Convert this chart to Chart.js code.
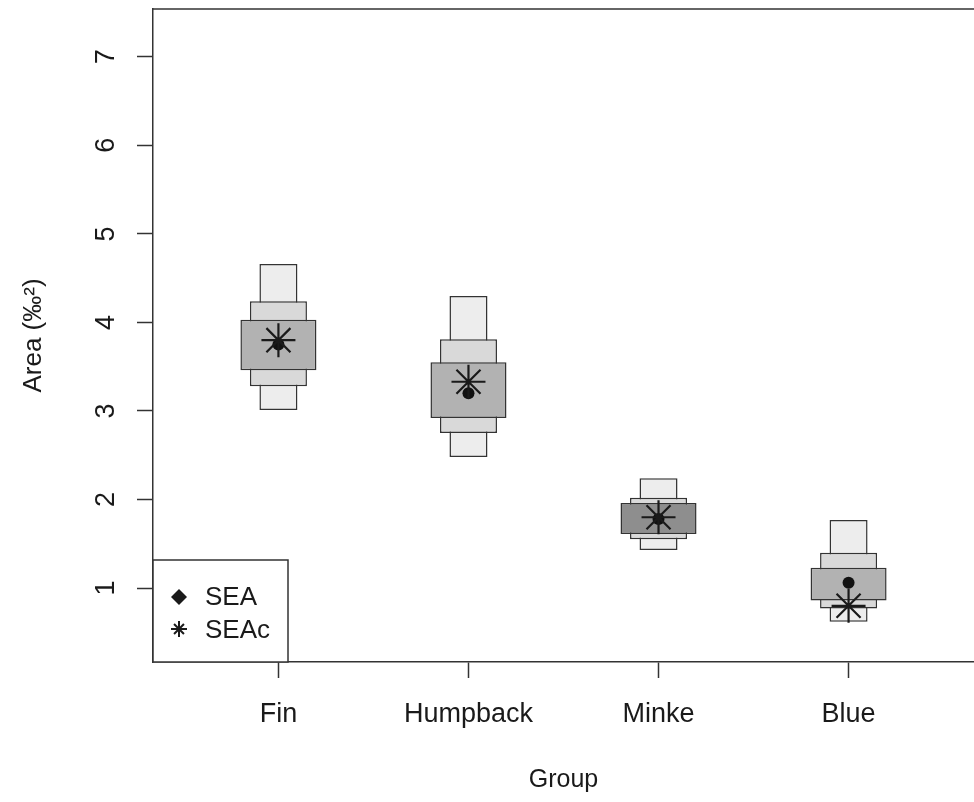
<!DOCTYPE html>
<html>
<head>
<meta charset="utf-8">
<script src="https://cdn.jsdelivr.net/npm/chart.js@4.4.1/dist/chart.umd.min.js"></script>
<style>
  body { margin: 0; background: #fff; }
  #wrap { width: 974px; height: 802px; }
</style>
</head>
<body>
<div id="wrap"><canvas id="areaChart" width="974" height="802"></canvas></div>
<script>
// groups on the x axis (positions 1..4)
const groups = ['Fin', 'Humpback', 'Minke', 'Blue'];
const groupPos = [1, 2, 3, 4];

// credible intervals of the ellipse area (lower / upper)
const ci95Low = [3.01, 2.48, 1.43, 0.62];
const ci95High = [4.66, 4.30, 2.24, 1.77];
const ci75Low = [3.28, 2.75, 1.55, 0.77];
const ci75High = [4.24, 3.81, 2.02, 1.40];
const ci50Low = [3.46, 2.92, 1.61, 0.86];
const ci50High = [4.03, 3.55, 1.96, 1.23];

// point estimates
const seaValues = [3.75, 3.20, 1.78, 1.06];
const seacValues = [3.80, 3.33, 1.80, 0.80];

const yTickValues = [1, 2, 3, 4, 5, 6, 7];

const FONT = "'Liberation Sans', Arial, sans-serif";
const INK = '#1a1a1a';

function boxData(lo, hi) {
    return groupPos.map((x, i) => ({ x: x, y: [lo[i], hi[i]] }));
}
function pointData(vals) {
    return groupPos.map((x, i) => ({ x: x, y: vals[i] }));
}

// top frame line + legend box in the bottom left corner
const framePlugin = {
    id: 'frame',
    afterDraw(chart) {
        const { ctx, chartArea } = chart;
        ctx.save();
        ctx.strokeStyle = '#333';
        ctx.lineWidth = 1.5;
        ctx.beginPath();
        ctx.moveTo(chartArea.left, chartArea.top);
        ctx.lineTo(chartArea.right, chartArea.top);
        ctx.stroke();

        // legend
        const lx = chartArea.left, lw = 135, lh = 102;
        const ly = chartArea.bottom - lh;
        ctx.fillStyle = '#fff';
        ctx.fillRect(lx, ly, lw, lh);
        ctx.strokeRect(lx, ly, lw, lh);

        const sx = lx + 26;
        // diamond for SEA
        let cy = ly + 37;
        ctx.fillStyle = INK;
        ctx.beginPath();
        ctx.moveTo(sx, cy - 8);
        ctx.lineTo(sx + 8, cy);
        ctx.lineTo(sx, cy + 8);
        ctx.lineTo(sx - 8, cy);
        ctx.closePath();
        ctx.fill();
        // asterisk for SEAc
        cy = ly + 69;
        ctx.strokeStyle = INK;
        ctx.lineWidth = 2;
        ctx.beginPath();
        for (let k = 0; k < 4; k++) {
            const a = k * Math.PI / 4;
            const r = k % 2 ? 7 : 8;
            ctx.moveTo(sx - Math.cos(a) * r, cy - Math.sin(a) * r);
            ctx.lineTo(sx + Math.cos(a) * r, cy + Math.sin(a) * r);
        }
        ctx.stroke();

        ctx.fillStyle = INK;
        ctx.font = '26px ' + FONT;
        ctx.textBaseline = 'alphabetic';
        ctx.textAlign = 'left';
        ctx.fillText(chart.data.datasets[1].label, lx + 52, ly + 45);
        ctx.fillText(chart.data.datasets[0].label, lx + 52, ly + 78);
        ctx.restore();
    }
};

const ctx = document.getElementById('areaChart').getContext('2d');
const areaChart = new Chart(ctx, {
    type: 'bar',
    data: {
        datasets: [
            {
                type: 'scatter',
                label: 'SEAc',
                data: pointData(seacValues),
                pointStyle: 'star',
                pointRadius: 17,
                borderColor: INK,
                borderWidth: 2.2,
                order: 0
            },
            {
                type: 'scatter',
                label: 'SEA',
                data: pointData(seaValues),
                pointStyle: 'circle',
                pointRadius: 6,
                backgroundColor: '#111',
                borderColor: '#111',
                borderWidth: 0,
                order: 1
            },
            {
                label: '50%',
                data: boxData(ci50Low, ci50High),
                backgroundColor: ['#b2b2b2', '#b2b2b2', '#8e8e8e', '#b2b2b2'],
                barPercentage: 0.4,
                order: 2
            },
            {
                label: '75%',
                data: boxData(ci75Low, ci75High),
                backgroundColor: '#d9d9d9',
                barPercentage: 0.3,
                order: 3
            },
            {
                label: '95%',
                data: boxData(ci95Low, ci95High),
                backgroundColor: '#ededed',
                barPercentage: 0.2,
                order: 4
            }
        ]
    },
    options: {
        responsive: false,
        animation: false,
        layout: { autoPadding: false, padding: { top: 9, right: 0, left: 0, bottom: 0 } },
        datasets: {
            bar: {
                grouped: false,
                categoryPercentage: 1,
                borderColor: '#333',
                borderWidth: 1.5,
                borderSkipped: false
            }
        },
        plugins: {
            legend: { display: false },
            tooltip: { enabled: false }
        },
        scales: {
            x: {
                type: 'linear',
                min: 0.34,
                max: 4.66,
                offset: false,
                afterFit: s => { s.height = 140; s.paddingLeft = 0; s.paddingRight = 0; },
                afterBuildTicks: s => { s.ticks = groupPos.map(v => ({ value: v })); },
                grid: { offset: false, drawOnChartArea: false, drawTicks: true, tickLength: 16, tickColor: '#333', tickWidth: 1.5 },
                border: { display: true, color: '#333', width: 1.5 },
                ticks: {
                    color: INK,
                    font: { family: FONT, size: 27 },
                    padding: 20,
                    maxRotation: 0,
                    callback: v => groups[groupPos.indexOf(v)]
                },
                title: {
                    display: true,
                    text: 'Group',
                    color: INK,
                    font: { family: FONT, size: 25 },
                    padding: { top: 0, bottom: 7 }
                }
            },
            y: {
                type: 'linear',
                min: 0.165,
                max: 7.54,
                afterFit: s => { s.width = 153; s.paddingTop = 0; s.paddingBottom = 0; },
                afterBuildTicks: s => { s.ticks = yTickValues.map(v => ({ value: v })); },
                grid: { drawOnChartArea: false, drawTicks: true, tickLength: 16, tickColor: '#333', tickWidth: 1.5 },
                border: { display: true, color: '#333', width: 1.5 },
                ticks: {
                    color: INK,
                    font: { family: FONT, size: 27 },
                    padding: 23,
                    minRotation: 90,
                    maxRotation: 90,
                    crossAlign: 'center'
                },
                title: {
                    display: true,
                    text: 'Area (‰²)',
                    color: INK,
                    font: { family: FONT, size: 26 },
                    padding: { top: 18, bottom: 0 }
                }
            }
        }
    },
    plugins: [framePlugin]
});
</script>
</body>
</html>
